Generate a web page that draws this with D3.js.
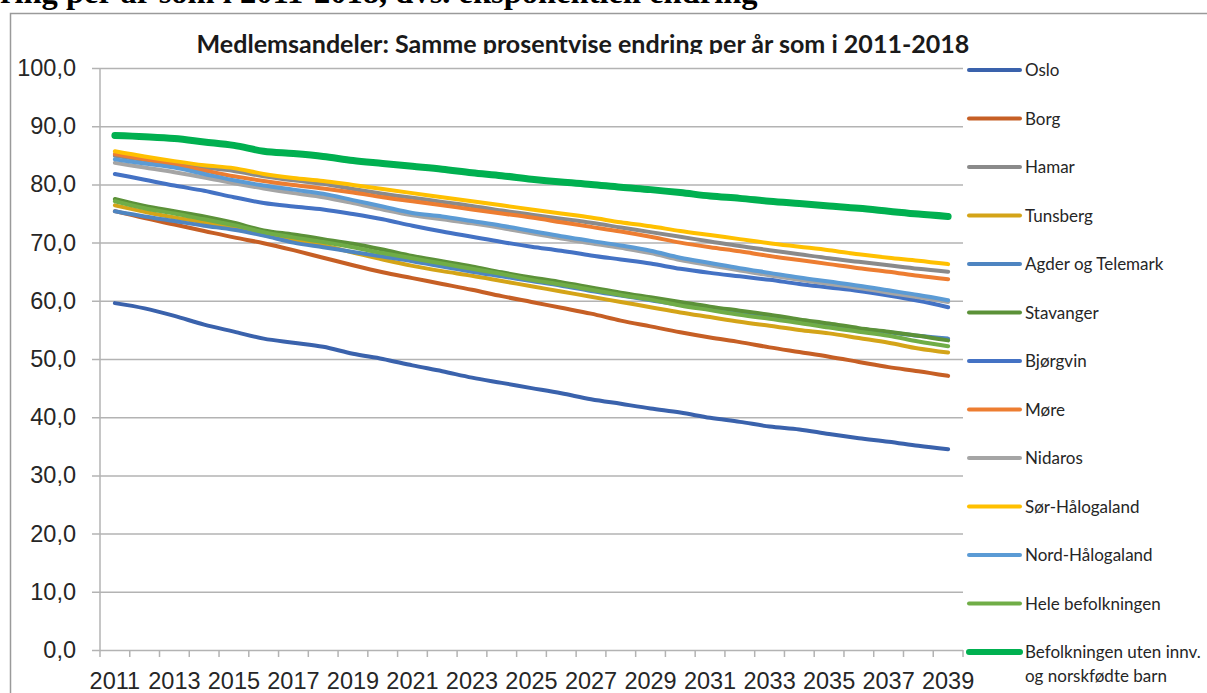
<!DOCTYPE html>
<html>
<head>
<meta charset="utf-8">
<script src="https://cdn.jsdelivr.net/npm/d3@7"></script>
<style>
    body { margin: 0; background: #fff; }
    svg { display: block; font-family: Lato, "Open Sans", sans-serif; }
    .axis path { display: none; }
    .axis text { fill: #262626; font-size: 23.5px; }
    .grid line { stroke: #b3b3b3; stroke-width: 1.5px; }
    .grid path { display: none; }
</style>
</head>
<body>
<div id="chart"></div>
<script>
// years on the category axis
var years = d3.range(2011, 2040);
var yearLabels = years.filter(function (d) { return d % 2 == 1; });
var yTicks = [0, 10, 20, 30, 40, 50, 60, 70, 80, 90, 100];

var seriesNames = ["Oslo", "Borg", "Hamar", "Tunsberg", "Agder og Telemark", "Stavanger", "Bjørgvin",
    "Møre", "Nidaros", "Sør-Hålogaland", "Nord-Hålogaland", "Hele befolkningen",
    "Befolkningen uten innv. og norskfødte barn"];

// member share (%) per year
var oslo = [59.6, 58.7, 57.4, 55.9, 54.7, 53.5, 52.8, 52.1, 50.9, 50.0, 48.9, 47.9, 46.8, 45.9, 45.0,
    44.1, 43.1, 42.3, 41.5, 40.8, 39.9, 39.2, 38.4, 37.9, 37.1, 36.4, 35.8, 35.1, 34.5];
var borg = [75.4, 74.2, 73.1, 72.0, 70.9, 69.9, 68.7, 67.4, 66.1, 64.9, 63.9, 62.9, 61.9, 60.8, 59.8,
    58.8, 57.8, 56.6, 55.6, 54.6, 53.7, 52.9, 52.0, 51.2, 50.4, 49.5, 48.6, 47.9, 47.1];
var hamar = [84.9, 84.2, 83.5, 82.9, 82.3, 81.4, 80.7, 80.1, 79.2, 78.4, 77.7, 77.0, 76.3, 75.5, 74.8,
    74.1, 73.4, 72.6, 71.8, 71.0, 70.2, 69.4, 68.7, 68.0, 67.3, 66.7, 66.1, 65.5, 65.0];
var tunsberg = [76.4, 75.3, 74.3, 73.5, 72.6, 71.3, 70.4, 69.5, 68.3, 67.1, 66.0, 65.1, 64.3, 63.4, 62.5,
    61.6, 60.7, 59.8, 58.9, 58.0, 57.2, 56.4, 55.7, 55.0, 54.4, 53.6, 52.8, 51.8, 51.1];
var agder = [75.4, 74.5, 73.7, 72.9, 72.2, 71.2, 70.0, 69.2, 68.4, 67.6, 66.8, 65.9, 65.0, 64.2, 63.4,
    62.6, 61.7, 60.9, 60.1, 59.3, 58.6, 57.9, 57.2, 56.5, 55.8, 55.2, 54.6, 54.0, 53.5];
var stavanger = [77.5, 76.3, 75.4, 74.5, 73.4, 72.1, 71.4, 70.6, 69.8, 68.8, 67.7, 66.8, 65.9, 64.9, 64.0,
    63.2, 62.3, 61.4, 60.6, 59.8, 59.0, 58.3, 57.6, 56.8, 56.1, 55.3, 54.7, 54.0, 53.2];
var bjorgvin = [81.8, 80.8, 79.8, 78.9, 77.8, 76.8, 76.2, 75.7, 74.9, 74.0, 72.9, 71.9, 71.0, 70.1, 69.3,
    68.6, 67.8, 67.1, 66.4, 65.5, 64.8, 64.2, 63.6, 62.9, 62.3, 61.7, 60.9, 60.0, 58.9];
var more = [85.2, 84.3, 83.4, 82.4, 81.4, 80.6, 79.9, 79.3, 78.6, 77.8, 77.1, 76.4, 75.7, 75.0, 74.3,
    73.5, 72.7, 71.9, 71.0, 70.0, 69.2, 68.5, 67.7, 67.0, 66.3, 65.6, 65.0, 64.3, 63.7];
var nidaros = [83.7, 82.9, 82.1, 81.2, 80.2, 79.3, 78.5, 77.8, 76.8, 75.7, 74.7, 74.0, 73.3, 72.5, 71.6,
    70.7, 69.9, 69.1, 68.2, 67.0, 66.1, 65.2, 64.4, 63.6, 62.9, 62.2, 61.4, 60.6, 59.8];
var sorHalogaland = [85.7, 84.8, 84.0, 83.3, 82.8, 81.8, 81.1, 80.6, 79.9, 79.2, 78.5, 77.8, 77.1, 76.4, 75.7,
    75.0, 74.3, 73.5, 72.8, 72.0, 71.3, 70.6, 69.9, 69.3, 68.7, 68.0, 67.4, 66.9, 66.3];
var nordHalogaland = [84.3, 83.6, 82.9, 81.8, 80.7, 79.8, 79.1, 78.4, 77.3, 76.2, 75.1, 74.5, 73.7, 72.9, 72.0,
    71.1, 70.3, 69.5, 68.6, 67.4, 66.5, 65.6, 64.8, 64.0, 63.3, 62.6, 61.8, 61.0, 60.1];
var heleBefolkningen = [77.1, 75.9, 75.0, 74.0, 73.0, 71.8, 70.9, 70.1, 69.2, 68.2, 67.3, 66.4, 65.5, 64.6, 63.6,
    62.8, 61.9, 61.0, 60.2, 59.2, 58.4, 57.6, 56.9, 56.2, 55.4, 54.7, 54.0, 53.0, 52.2];
var utenInnvandrere = [88.4, 88.2, 87.9, 87.3, 86.7, 85.7, 85.3, 84.8, 84.1, 83.6, 83.1, 82.6, 82.0, 81.5, 80.9,
    80.4, 80.0, 79.5, 79.1, 78.6, 78.0, 77.6, 77.1, 76.7, 76.3, 75.9, 75.4, 74.9, 74.5];

var seriesValues = [oslo, borg, hamar, tunsberg, agder, stavanger, bjorgvin, more, nidaros,
    sorHalogaland, nordHalogaland, heleBefolkningen, utenInnvandrere];

var colors = ["#3A62AC", "#C65F25", "#8A8A8A", "#D4A418", "#4E85C1", "#5B9138", "#4472C4",
    "#ED7D31", "#A5A5A5", "#FFC000", "#5B9BD5", "#70AD47", "#00B050"];

var width = 1207, height = 693;
var margin = { top: 68, right: 244, bottom: 43, left: 100 };

var svg = d3.select("#chart").append("svg")
    .attr("width", width)
    .attr("height", height);

// heading text from the document above the chart, cut by the page edge
var docText = svg.append("text")
    .attr("x", 0)
    .attr("y", 3)
    .attr("font-family", "'Liberation Serif', 'Times New Roman', serif")
    .attr("font-weight", "bold")
    .attr("font-size", 26)
    .attr("fill", "#000")
    .text("ring per år som i 2011-2018, dvs. eksponentiell endring");
docText.attr("font-size", 26 * 758 / docText.node().getComputedTextLength());

// chart frame
svg.append("path")
    .attr("d", "M10.5," + height + "V13.5H" + width)
    .attr("fill", "none")
    .attr("stroke", "#9a9a9a")
    .attr("stroke-width", 1.5);

// title, bottom is cut off like in the original
svg.append("clipPath")
    .attr("id", "title-clip")
    .append("rect")
    .attr("x", 0).attr("y", 14)
    .attr("width", width).attr("height", 40);

var title = svg.append("text")
    .attr("clip-path", "url(#title-clip)")
    .attr("x", 583)
    .attr("y", 53)
    .attr("text-anchor", "middle")
    .attr("font-weight", "bold")
    .attr("font-size", 22)
    .attr("fill", "#1a1a1a")
    .text("Medlemsandeler: Samme prosentvise endring per år som i 2011-2018");
title.attr("font-size", 22 * 773 / title.node().getComputedTextLength());

var plotW = width - margin.left - margin.right;
var plotH = height - margin.top - margin.bottom;

var g = svg.append("g")
    .attr("transform", "translate(" + margin.left + "," + margin.top + ")");

var x = d3.scaleBand()
    .domain(years)
    .range([0, plotW]);
var y = d3.scaleLinear()
    .domain([0, 100])
    .range([plotH, 0]);

var locale = d3.formatLocale({ decimal: ",", thousands: " ", grouping: [3], currency: ["", " kr"] });
var fmt = locale.format(".1f");

// gridlines
g.append("g")
    .attr("class", "grid")
    .call(d3.axisLeft(y).tickValues(yTicks).tickSize(-plotW).tickFormat(""))
    .selectAll("line")
    .attr("x1", -8);

// y axis line
g.append("line")
    .attr("x1", 0).attr("x2", 0)
    .attr("y1", 0).attr("y2", plotH)
    .attr("stroke", "#b3b3b3")
    .attr("stroke-width", 1.5);

g.append("g")
    .attr("class", "axis y-axis")
    .call(d3.axisLeft(y).tickValues(yTicks).tickSize(0).tickPadding(24).tickFormat(fmt));

// x axis ticks at category borders
var edges = years.map(function (d) { return x(d); }).concat([plotW]);
g.selectAll(".x-edge")
    .data(edges)
    .enter()
    .append("line")
    .attr("class", "x-edge")
    .attr("x1", function (d) { return d; })
    .attr("x2", function (d) { return d; })
    .attr("y1", plotH)
    .attr("y2", plotH + 7)
    .attr("stroke", "#b3b3b3")
    .attr("stroke-width", 1.5);

g.append("g")
    .attr("class", "axis x-axis")
    .attr("transform", "translate(0," + plotH + ")")
    .call(d3.axisBottom(x).tickValues(yearLabels).tickSize(0).tickPadding(22));

// lines
var line = d3.line()
    .x(function (d, i) { return x(years[i]) + x.bandwidth() / 2; })
    .y(function (d) { return y(d); })
    .curve(d3.curveMonotoneX);

g.selectAll(".series")
    .data(seriesValues)
    .enter()
    .append("path")
    .attr("class", "series")
    .attr("fill", "none")
    .attr("stroke", function (d, i) { return colors[i]; })
    .attr("stroke-width", function (d, i) { return i == seriesValues.length - 1 ? 7 : 4; })
    .attr("stroke-linecap", "round")
    .attr("stroke-linejoin", "round")
    .attr("d", line);

// legend
var legend = svg.append("g")
    .attr("transform", "translate(967,70)");

var item = legend.selectAll(".legend-item")
    .data(seriesNames)
    .enter()
    .append("g")
    .attr("class", "legend-item")
    .attr("transform", function (d, i) { return "translate(0," + (i * 48.5) + ")"; });

item.append("line")
    .attr("x1", 2).attr("x2", 53)
    .attr("y1", 0).attr("y2", 0)
    .attr("stroke", function (d, i) { return colors[i]; })
    .attr("stroke-width", function (d, i) { return i == seriesNames.length - 1 ? 6 : 4; })
    .attr("stroke-linecap", "round");

item.append("text")
    .attr("x", 58)
    .attr("y", 6)
    .attr("font-size", 17)
    .attr("fill", "#262626")
    .each(function (d) {
        var t = d3.select(this);
        var parts = d.indexOf("innv.") > 0 ? [d.slice(0, d.indexOf("innv.") + 5), d.slice(d.indexOf("innv.") + 6)] : [d];
        parts.forEach(function (p, k) {
            t.append("tspan").attr("x", 58).attr("dy", k == 0 ? 0 : 24).text(p);
        });
    });
</script>
</body>
</html>
